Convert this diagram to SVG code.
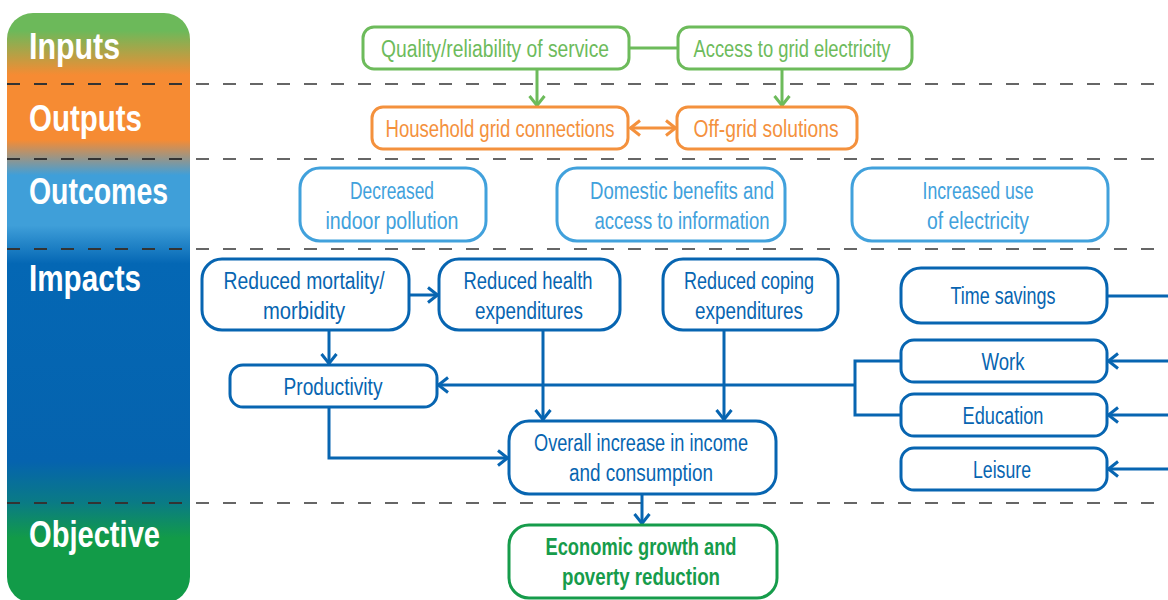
<svg xmlns="http://www.w3.org/2000/svg" width="1168" height="600" viewBox="0 0 1168 600">
<defs>
<linearGradient id="band" x1="0" y1="13" x2="0" y2="603" gradientUnits="userSpaceOnUse">
<stop offset="0" stop-color="#6cb95a"/>
<stop offset="0.03" stop-color="#6cb95a"/>
<stop offset="0.105" stop-color="#f68b33"/>
<stop offset="0.215" stop-color="#f68b33"/>
<stop offset="0.275" stop-color="#3f9fd9"/>
<stop offset="0.36" stop-color="#3f9fd9"/>
<stop offset="0.425" stop-color="#0467b4"/>
<stop offset="0.76" stop-color="#0563ae"/>
<stop offset="0.83" stop-color="#0a7b85"/>
<stop offset="0.89" stop-color="#129b48"/>
<stop offset="1" stop-color="#129b48"/>
</linearGradient>
<marker id="aB" viewBox="0 0 12 18" refX="11" refY="9" markerWidth="12" markerHeight="18" markerUnits="userSpaceOnUse" orient="auto-start-reverse"><path d="M1,1.5 L10.5,9 L1,16.5" fill="none" stroke="#0765b1" stroke-width="3"/></marker>
<marker id="aG" viewBox="0 0 12 18" refX="11" refY="9" markerWidth="12" markerHeight="18" markerUnits="userSpaceOnUse" orient="auto-start-reverse"><path d="M1,1.5 L10.5,9 L1,16.5" fill="none" stroke="#6dbb5b" stroke-width="3"/></marker>
<marker id="aO" viewBox="0 0 12 18" refX="11" refY="9" markerWidth="12" markerHeight="18" markerUnits="userSpaceOnUse" orient="auto-start-reverse"><path d="M1,1.5 L10.5,9 L1,16.5" fill="none" stroke="#f4913d" stroke-width="3"/></marker>
</defs>
<style>
text{font-family:"Liberation Sans Narrow","Liberation Sans",Arial,sans-serif;font-size:23px;text-anchor:middle}
.band{font-size:37px;font-weight:bold;fill:#fff;text-anchor:start}
.box{fill:#fff;stroke-width:3}
.g rect{stroke:#6dbb5b} .g text{fill:#6dbb5b}
.o rect{stroke:#f4913d} .o text{fill:#f4913d}
.lb rect{stroke:#41a1dc} .lb text{fill:#41a1dc}
.b rect{stroke:#0765b1} .b text{fill:#0765b1}
.ob rect{stroke:#169c4b} .ob text{fill:#169c4b;font-weight:bold}
.dash{stroke:#666;stroke-width:2;stroke-dasharray:13 14;fill:none}
.dk{stroke:#333}
.cb{stroke:#0765b1;stroke-width:3;fill:none}
</style>
<g id="band-col">
<rect x="7" y="13" width="183" height="590" rx="26" fill="url(#band)"/>
<text class="band" x="29" y="59" textLength="91" lengthAdjust="spacingAndGlyphs">Inputs</text>
<text class="band" x="29" y="131" textLength="113" lengthAdjust="spacingAndGlyphs">Outputs</text>
<text class="band" x="29" y="204" textLength="139" lengthAdjust="spacingAndGlyphs">Outcomes</text>
<text class="band" x="29" y="291" textLength="112" lengthAdjust="spacingAndGlyphs">Impacts</text>
<text class="band" x="29" y="547" textLength="131" lengthAdjust="spacingAndGlyphs">Objective</text>
</g>
<g id="dividers">
<line class="dash" x1="7" y1="84" x2="1168" y2="84"/>
<line class="dash" x1="7" y1="159" x2="1168" y2="159"/>
<line class="dash" x1="7" y1="249" x2="1168" y2="249"/>
<line class="dash" x1="7" y1="503" x2="1168" y2="503"/>
<line class="dash dk" x1="7" y1="84" x2="190" y2="84"/>
<line class="dash dk" x1="7" y1="159" x2="190" y2="159"/>
<line class="dash dk" x1="7" y1="249" x2="190" y2="249"/>
<line class="dash dk" x1="7" y1="503" x2="190" y2="503"/>
</g>
<g id="connectors">
<line x1="629" y1="48" x2="678" y2="48" stroke="#6dbb5b" stroke-width="3"/>
<line x1="537" y1="69" x2="537" y2="106" stroke="#6dbb5b" stroke-width="3" marker-end="url(#aG)"/>
<line x1="782" y1="69" x2="782" y2="106" stroke="#6dbb5b" stroke-width="3" marker-end="url(#aG)"/>
<line x1="630" y1="128" x2="676" y2="128" stroke="#f4913d" stroke-width="3" marker-start="url(#aO)" marker-end="url(#aO)"/>
<line class="cb" x1="409" y1="295" x2="438" y2="295" marker-end="url(#aB)"/>
<line class="cb" x1="329" y1="330" x2="329" y2="364" marker-end="url(#aB)"/>
<line class="cb" x1="543" y1="330" x2="543" y2="420" marker-end="url(#aB)"/>
<line class="cb" x1="724" y1="330" x2="724" y2="420" marker-end="url(#aB)"/>
<polyline class="cb" points="329,407 329,458 508,458" marker-end="url(#aB)"/>
<polyline class="cb" points="901,361 855,361 855,415 901,415"/>
<line class="cb" x1="855" y1="385" x2="438" y2="385" marker-end="url(#aB)"/>
<line class="cb" x1="1107" y1="296" x2="1168" y2="296"/>
<line class="cb" x1="1168" y1="361" x2="1108" y2="361" marker-end="url(#aB)"/>
<line class="cb" x1="1168" y1="415" x2="1108" y2="415" marker-end="url(#aB)"/>
<line class="cb" x1="1168" y1="469" x2="1108" y2="469" marker-end="url(#aB)"/>
<line class="cb" x1="642" y1="494" x2="642" y2="524" marker-end="url(#aB)"/>
</g>
<g id="n-quality" class="g"><rect class="box" x="363" y="27" width="266" height="42" rx="11"/><text x="495" y="57" textLength="228" lengthAdjust="spacingAndGlyphs">Quality/reliability of service</text></g>
<g id="n-access" class="g"><rect class="box" x="678" y="27" width="234" height="42" rx="11"/><text x="792" y="57" textLength="197" lengthAdjust="spacingAndGlyphs">Access to grid electricity</text></g>
<g id="n-household" class="o"><rect class="box" x="372" y="107" width="256" height="42" rx="11"/><text x="500" y="137" textLength="229" lengthAdjust="spacingAndGlyphs">Household grid connections</text></g>
<g id="n-offgrid" class="o"><rect class="box" x="677" y="107" width="180" height="42" rx="11"/><text x="766" y="137" textLength="145" lengthAdjust="spacingAndGlyphs">Off-grid solutions</text></g>
<g id="n-indoor" class="lb"><rect class="box" x="300" y="168" width="186" height="73" rx="20"/><text x="392" y="199" textLength="84" lengthAdjust="spacingAndGlyphs">Decreased</text><text x="392" y="229" textLength="133" lengthAdjust="spacingAndGlyphs">indoor pollution</text></g>
<g id="n-domestic" class="lb"><rect class="box" x="557" y="168" width="228" height="73" rx="20"/><text x="682" y="199" textLength="184" lengthAdjust="spacingAndGlyphs">Domestic benefits and</text><text x="682" y="229" textLength="175" lengthAdjust="spacingAndGlyphs">access to information</text></g>
<g id="n-increased" class="lb"><rect class="box" x="852" y="168" width="256" height="73" rx="20"/><text x="978" y="199" textLength="111" lengthAdjust="spacingAndGlyphs">Increased use</text><text x="978" y="229" textLength="102" lengthAdjust="spacingAndGlyphs">of electricity</text></g>
<g id="n-mortality" class="b"><rect class="box" x="202" y="259" width="207" height="71" rx="20"/><text x="304" y="289" textLength="161" lengthAdjust="spacingAndGlyphs">Reduced mortality/</text><text x="304" y="319" textLength="82" lengthAdjust="spacingAndGlyphs">morbidity</text></g>
<g id="n-health" class="b"><rect class="box" x="439" y="259" width="181" height="71" rx="20"/><text x="528" y="289" textLength="129" lengthAdjust="spacingAndGlyphs">Reduced health</text><text x="529" y="319" textLength="108" lengthAdjust="spacingAndGlyphs">expenditures</text></g>
<g id="n-coping" class="b"><rect class="box" x="663" y="259" width="175" height="71" rx="20"/><text x="749" y="289" textLength="130" lengthAdjust="spacingAndGlyphs">Reduced coping</text><text x="749" y="319" textLength="108" lengthAdjust="spacingAndGlyphs">expenditures</text></g>
<g id="n-time" class="b"><rect class="box" x="901" y="268" width="206" height="55" rx="20"/><text x="1003" y="304" textLength="105" lengthAdjust="spacingAndGlyphs">Time savings</text></g>
<g id="n-work" class="b"><rect class="box" x="901" y="340" width="206" height="42" rx="13"/><text x="1003" y="370" textLength="43" lengthAdjust="spacingAndGlyphs">Work</text></g>
<g id="n-education" class="b"><rect class="box" x="901" y="394" width="206" height="42" rx="13"/><text x="1003" y="424" textLength="81" lengthAdjust="spacingAndGlyphs">Education</text></g>
<g id="n-leisure" class="b"><rect class="box" x="901" y="448" width="206" height="42" rx="13"/><text x="1002" y="478" textLength="58" lengthAdjust="spacingAndGlyphs">Leisure</text></g>
<g id="n-productivity" class="b"><rect class="box" x="230" y="365" width="207" height="42" rx="13"/><text x="333" y="395" textLength="99" lengthAdjust="spacingAndGlyphs">Productivity</text></g>
<g id="n-overall" class="b"><rect class="box" x="509" y="421" width="267" height="73" rx="20"/><text x="641" y="451" textLength="214" lengthAdjust="spacingAndGlyphs">Overall increase in income</text><text x="641" y="481" textLength="144" lengthAdjust="spacingAndGlyphs">and consumption</text></g>
<g id="n-economic" class="ob"><rect class="box" x="509" y="525" width="268" height="73" rx="20"/><text x="641" y="555" textLength="191" lengthAdjust="spacingAndGlyphs">Economic growth and</text><text x="641" y="585" textLength="158" lengthAdjust="spacingAndGlyphs">poverty reduction</text></g>
</svg>
